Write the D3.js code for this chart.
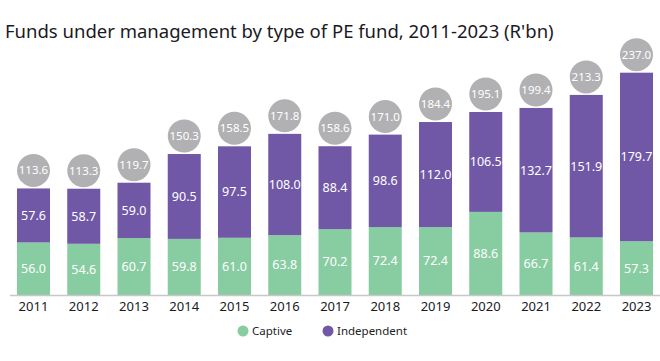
<!DOCTYPE html>
<html>
<head>
<meta charset="utf-8">
<script src="https://cdn.jsdelivr.net/npm/d3@7"></script>
<style>
  body { margin: 0; background: #fff; }
  text { font-family: "Noto Sans", "DejaVu Sans", sans-serif; }
</style>
</head>
<body>
<div id="chart"></div>
<script>
// Chart data, R'bn;
const years = ["2011", "2012", "2013", "2014", "2015", "2016", "2017", "2018", "2019", "2020", "2021", "2022", "2023"]
const captive = [56.0, 54.6, 60.7, 59.8, 61.0, 63.8, 70.2, 72.4, 72.4, 88.6, 66.7, 61.4, 57.3]
const independent = [57.6, 58.7, 59.0, 90.5, 97.5, 108.0, 88.4, 98.6, 112.0, 106.5, 132.7, 151.9, 179.7]
const totals = [113.6, 113.3, 119.7, 150.3, 158.5, 171.8, 158.6, 171.0, 184.4, 195.1, 199.4, 213.3, 237.0]
const seriesNames = ["Captive", "Independent"]

const width = 660
const height = 361
const colors = { Captive: "#88cca1", Independent: "#7058a6" }
const bubbleColor = "#b1b1b3"
const baseline = 295

const svg = d3.select("#chart").append("svg")
    .attr("width", width)
    .attr("height", height)

svg.append("text")
    .attr("x", 5)
    .attr("y", 38)
    .attr("font-size", 18.5)
    .attr("fill", "#1a1a24")
    .text("Funds under management by type of PE fund, 2011-2023 (R'bn)")

const x = d3.scaleBand()
    .domain(years)
    .range([-0.25, 670.25])
    .padding(0.343)

const y = d3.scaleLinear()
    .domain([0, 250])
    .range([baseline, baseline - 250 * 0.938])

const rows = years.map((yr, i) => ({ year: yr, Captive: captive[i], Independent: independent[i], total: totals[i] }))
const stacked = d3.stack().keys(seriesNames)(rows)

// Stacked bars;
const layer = svg.selectAll("g.layer")
    .data(stacked)
    .join("g")
    .attr("class", "layer")
    .attr("fill", d => colors[d.key])

layer.selectAll("rect")
    .data(d => d)
    .join("rect")
    .attr("x", d => x(d.data.year))
    .attr("y", d => y(d[1]))
    .attr("width", x.bandwidth())
    .attr("height", d => y(d[0]) - y(d[1]))

// Segment value labels;
layer.selectAll("text")
    .data(d => d.map(v => ({ v, key: d.key })))
    .join("text")
    .attr("x", d => x(d.v.data.year) + x.bandwidth() / 2)
    .attr("y", d => (y(d.v[0]) + y(d.v[1])) / 2)
    .attr("dy", "0.35em")
    .attr("text-anchor", "middle")
    .attr("font-size", 12.5)
    .attr("fill", "#fff")
    .text(d => d.v.data[d.key].toFixed(1))

// Total bubbles;
const bubble = svg.selectAll("g.total")
    .data(rows)
    .join("g")
    .attr("class", "total")
    .attr("transform", d => `translate(${x(d.year) + x.bandwidth() / 2},${y(d.total) - 18})`)

bubble.append("circle")
    .attr("r", 16.5)
    .attr("fill", bubbleColor)

bubble.append("text")
    .attr("dy", "0.35em")
    .attr("text-anchor", "middle")
    .attr("font-size", 11.5)
    .attr("fill", "#fff")
    .text(d => d.total.toFixed(1))

// Axis;
const axis = svg.append("g")
    .attr("transform", `translate(0,${baseline})`)
    .call(d3.axisBottom(x).tickSize(0).tickPadding(7))

axis.select(".domain")
    .attr("d", `M10,0.5H${width}`)
    .attr("stroke", "#c8c8c8")
    .attr("stroke-width", 1.5)

axis.selectAll(".tick text")
    .attr("font-size", 13)
    .attr("font-family", "'Noto Sans', 'DejaVu Sans', sans-serif")
    .attr("fill", "#1a1a24")

// Legend;
const legendPos = [243, 328]
const legend = svg.selectAll("g.legend")
    .data(seriesNames)
    .join("g")
    .attr("class", "legend")
    .attr("transform", (d, i) => `translate(${legendPos[i]},331)`)

legend.append("circle")
    .attr("r", 5.5)
    .attr("fill", d => colors[d])

legend.append("text")
    .attr("x", 9)
    .attr("dy", "0.35em")
    .attr("font-size", 11.5)
    .attr("fill", "#222")
    .text(d => d)
</script>
</body>
</html>
